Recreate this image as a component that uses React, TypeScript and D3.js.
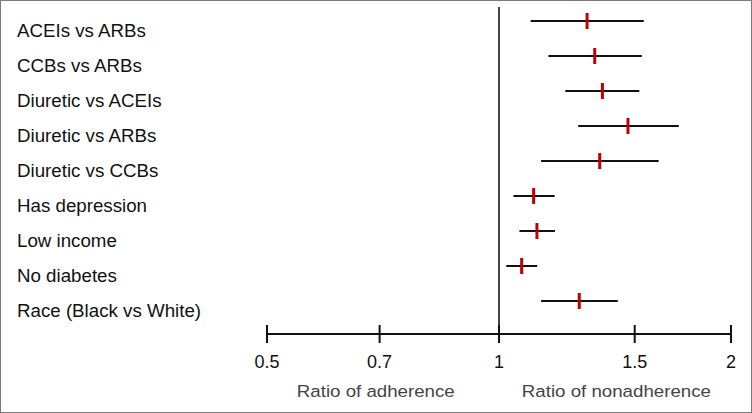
import React from "react";
import * as d3 from "d3";

const categories = [
  "ACEIs vs ARBs",
  "CCBs vs ARBs",
  "Diuretic vs ACEIs",
  "Diuretic vs ARBs",
  "Diuretic vs CCBs",
  "Has depression",
  "Low income",
  "No diabetes",
  "Race (Black vs White)",
];
const estimates = [1.301, 1.331, 1.362, 1.47, 1.351, 1.109, 1.12, 1.07, 1.271];
const lowerCI = [1.099, 1.159, 1.219, 1.267, 1.134, 1.044, 1.063, 1.022, 1.134];
const upperCI = [1.541, 1.532, 1.521, 1.711, 1.611, 1.181, 1.182, 1.121, 1.426];
const tickValues = [0.5, 0.7, 1, 1.5, 2];
const tickLabels = ["0.5", "0.7", "1", "1.5", "2"];
const axisTitles = ["Ratio of adherence", "Ratio of nonadherence"];
const axisTitleCenters = [0.692, 1.42];

const W = 752;
const H = 413;

export default function App() {
  const x = d3.scaleLog().domain([0.5, 2]).range([267, 731]);
  const y = d3
    .scalePoint<string>()
    .domain(categories)
    .range([21, 301]);
  const axisY = 334;
  const font = "Arial, 'Liberation Sans', Helvetica, sans-serif";
  return (
    <svg
      width={W}
      height={H}
      style={{ position: "absolute", left: 0, top: 0, background: "#fff" }}
    >
      <rect x={0.5} y={0.5} width={W - 1} height={H - 1} fill="#fff" stroke="#7a7a7a" strokeWidth={1} />
      <line x1={x(1)} x2={x(1)} y1={7} y2={axisY} stroke="#444" strokeWidth={2} />
      {categories.map((c, i) => {
        const yy = y(c)!;
        return (
          <g key={c}>
            <text
              transform={`translate(17,${yy + 16}) scale(1.07,1)`}
              fontFamily={font}
              fontSize={17.5}
              fill="#111"
            >
              {c}
            </text>
            <line x1={x(lowerCI[i])} x2={x(upperCI[i])} y1={yy} y2={yy} stroke="#111" strokeWidth={2} />
            <line
              x1={x(estimates[i])}
              x2={x(estimates[i])}
              y1={yy - 8}
              y2={yy + 8}
              stroke="#c00000"
              strokeWidth={3}
            />
          </g>
        );
      })}
      <line x1={x(0.5)} x2={x(2)} y1={axisY} y2={axisY} stroke="#111" strokeWidth={2} />
      {tickValues.map((t, i) => (
        <g key={t}>
          <line x1={x(t)} x2={x(t)} y1={axisY - 9} y2={axisY + 9} stroke="#111" strokeWidth={2} />
          <text
            transform={`translate(${x(t)},368) scale(1.03,1)`}
            textAnchor="middle"
            fontFamily={font}
            fontSize={17.5}
            fill="#111"
          >
            {tickLabels[i]}
          </text>
        </g>
      ))}
      {axisTitles.map((t, i) => (
        <text
          key={t}
          transform={`translate(${x(axisTitleCenters[i])},397) scale(1.1,1)`}
          textAnchor="middle"
          fontFamily={font}
          fontSize={17}
          fill="#444"
        >
          {t}
        </text>
      ))}
    </svg>
  );
}
